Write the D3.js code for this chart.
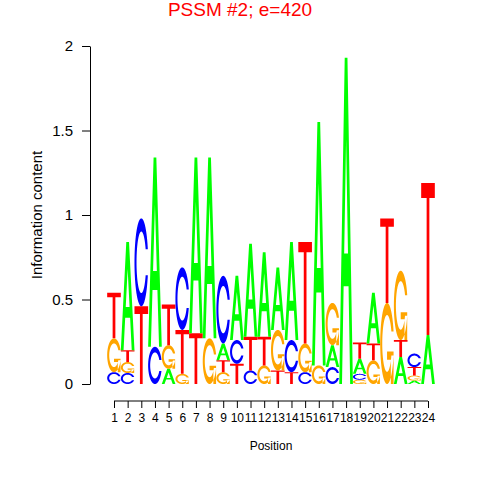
<!DOCTYPE html>
<html>
<head>
<meta charset="utf-8">
<script src="https://cdn.jsdelivr.net/npm/d3@7"></script>
<style>
  body { margin: 0; background: #fff; }
  svg { display: block; font-family: "Liberation Sans", Arial, Helvetica, sans-serif; }
</style>
</head>
<body>
<div id="logo"></div>
<script>
// information content (bits) of each letter at positions 1..24
var positions = d3.range(1, 25);
var infoA = [0, 0.64, 0, 1.12, 0.09, 0, 1.04, 1.07, 0.10, 0.38, 0.55, 0.50, 0.37, 0.58, 0, 1.44, 0.13, 1.93, 0.09, 0.30, 0, 0.16, 0.02, 0.29];
var infoC = [0.07, 0.065, 0.52, 0.22, 0, 0.37, 0, 0, 0.40, 0.14, 0.08, 0, 0, 0.19, 0.07, 0, 0.10, 0, 0.035, 0, 0, 0, 0.08, 0];
var infoG = [0.20, 0.065, 0, 0, 0.14, 0.06, 0, 0.27, 0.07, 0, 0, 0.11, 0.24, 0, 0.17, 0.11, 0.25, 0, 0.025, 0.14, 0.48, 0.41, 0.03, 0];
var infoT = [0.27, 0.07, 0.46, 0, 0.24, 0.26, 0.30, 0, 0.07, 0.12, 0.20, 0.17, 0.08, 0.07, 0.60, 0, 0, 0, 0.095, 0.10, 0.50, 0.10, 0.05, 0.90];
// stacking order, bottom to top, as drawn in the logo
var stackOrder = ["CGT", "CGTA", "TC", "CA", "AGT", "GTC", "TA", "GA", "GTAC", "TCA", "CTA", "GTA",
                  "TGA", "TCA", "CGT", "GA", "CAG", "A", "GCAT", "GTA", "GT", "ATG", "AGTC", "AT"];
var yTicks = [0, 0.5, 1, 1.5, 2];

var info = { A: infoA, C: infoC, G: infoG, T: infoT };
var colors = { A: "#00ff00", C: "#0000ff", G: "#ffa500", T: "#ff0000" };

var width = 480, height = 480;

var x = d3.scaleLinear().domain([1, 24]).range([114, 428]);
var y = d3.scaleLinear().domain([0, 2]).range([384, 46]);
var colW = x(2) - x(1);

// glyph outlines in a unit box (seqLogo style)
function ring() {
    var n = 100;
    var a1 = d3.range(n).map(function(i) { return 0.3 + Math.PI / 2 + i * (Math.PI / 2 - 0.3) / (n - 1); });
    var a2 = d3.range(n).map(function(i) { return Math.PI + i * (Math.PI / 2) / (n - 1); });
    var l1 = a1.map(function(a) { return [0.5 + 0.5 * Math.sin(a), 0.5 + 0.5 * Math.cos(a)]; });
    var l2 = a2.map(function(a) { return [0.5 + 0.5 * Math.sin(a), 0.5 + 0.5 * Math.cos(a)]; });
    var l = l1.concat(l2);
    var outer = l.concat(l.slice().reverse().map(function(p) { return [p[0], 1 - p[1]]; }));
    var h = l1[0][1];
    var i1 = a1.map(function(a) { return [0.5 + 0.35 * Math.sin(a), 0.5 + 0.35 * Math.cos(a)]; })
        .filter(function(p) { return p[1] <= h; });
    i1[0] = [i1[0][0], h];
    var i2 = a2.map(function(a) { return [0.5 + 0.35 * Math.sin(a), 0.5 + 0.35 * Math.cos(a)]; });
    var inner = i1.concat(i2);
    inner = inner.concat(inner.slice().reverse().map(function(p) { return [p[0], 1 - p[1]]; }));
    return { pts: outer.concat(inner.reverse()), r1: l1[0][0] };
}
var rg = ring();
var glyphs = {
    A: [
        [[0, 0], [0.4, 1], [0.6, 1], [1, 0], [0.8, 0], [0.68, 0.3], [0.32, 0.3], [0.2, 0]],
        [[0.36, 0.4], [0.5, 0.75], [0.64, 0.4]]
    ],
    T: [[[0, 1], [1, 1], [1, 0.9], [0.6, 0.9], [0.6, 0], [0.4, 0], [0.4, 0.9], [0, 0.9]]],
    C: [rg.pts],
    G: [rg.pts, [[rg.r1, 0.4], [0.5, 0.4], [0.5, 0.3], [rg.r1 - 0.2, 0.3], [rg.r1 - 0.2, 0], [rg.r1, 0]]]
};

// build the stacked letters
var letters = [];
positions.forEach(function(p, i) {
    var base = 0;
    stackOrder[i].split("").forEach(function(b) {
        var v = info[b][i];
        if (v > 0) {
            letters.push({ pos: p, base: b, y0: base, y1: base + v });
            base += v;
        }
    });
});

var svg = d3.select("#logo").append("svg")
    .attr("width", width)
    .attr("height", height);

svg.append("text")
    .attr("x", 240)
    .attr("y", 16)
    .attr("text-anchor", "middle")
    .style("font-size", "19px")
    .style("fill", "#ff0000")
    .text("PSSM #2; e=420");

svg.selectAll("path.letter")
    .data(letters)
    .enter().append("path")
    .attr("class", "letter")
    .attr("fill", function(d) { return colors[d.base]; })
    .attr("fill-rule", "evenodd")
    .attr("d", function(d) {
        var gx = d3.scaleLinear().domain([0, 1]).range([x(d.pos) - colW / 2, x(d.pos) + colW / 2]);
        var gy = d3.scaleLinear().domain([0, 1]).range([y(d.y0), y(d.y1)]);
        var line = d3.line().x(function(p) { return gx(p[0]); }).y(function(p) { return gy(p[1]); });
        return glyphs[d.base].map(function(poly) { return line(poly) + "Z"; }).join("");
    });

// y axis
var yAxis = svg.append("g")
    .attr("transform", "translate(90,0)")
    .call(d3.axisLeft(y).tickValues(yTicks).tickFormat(function(d) { return d; })
        .tickSize(8).tickSizeOuter(0).tickPadding(9));
yAxis.selectAll("text").style("font-size", "15px").style("fill", "#000");
yAxis.selectAll("line, path").attr("stroke", "#000");

svg.append("text")
    .attr("transform", "translate(37,215) rotate(-90)")
    .attr("text-anchor", "middle")
    .attr("dy", "0.35em")
    .style("font-size", "15px")
    .text("Information content");

// x axis
var xAxis = svg.append("g")
    .attr("transform", "translate(0,401)")
    .call(d3.axisBottom(x).tickValues(positions).tickFormat(d3.format("d"))
        .tickSize(7).tickSizeOuter(0).tickPadding(5));
xAxis.select(".domain").remove();
xAxis.append("line")
    .attr("x1", x(1)).attr("x2", x(24))
    .attr("y1", 0).attr("y2", 0)
    .attr("stroke", "#000");
xAxis.selectAll("text").style("font-size", "12px").style("fill", "#000");
xAxis.selectAll("line").attr("stroke", "#000");

svg.append("text")
    .attr("x", 271)
    .attr("y", 450)
    .attr("text-anchor", "middle")
    .style("font-size", "12px")
    .text("Position");
</script>
</body>
</html>
